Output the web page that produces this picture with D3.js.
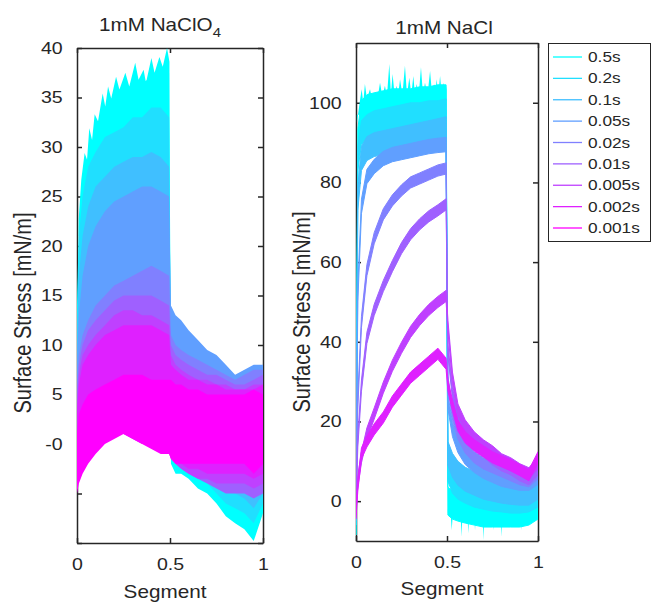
<!DOCTYPE html>
<html>
<head>
<meta charset="utf-8">
<script src="https://cdn.jsdelivr.net/npm/d3@7"></script>
<style>
  body { margin: 0; background: #fff; }
  svg { display: block; }
</style>
</head>
<body>
<svg id="chart" width="652" height="603"></svg>
<script>
// ---- data ----
const durations = ["0.5s", "0.2s", "0.1s", "0.05s", "0.02s", "0.01s", "0.005s", "0.002s", "0.001s"];
const seriesColors = ["#00ffff", "#20dfff", "#40bfff", "#609fff", "#8080ff", "#9f60ff", "#bf40ff", "#df20ff", "#ff00ff"];

const xTicks = [0, 0.5, 1];
const xTickLabels = ["0", "0.5", "1"];
const perchlorateTicks = [-10, -5, 0, 5, 10, 15, 20, 25, 30, 35, 40];
const perchlorateTickLabels = ["", "", "-0", "5", "10", "15", "20", "25", "30", "35", "40"];
const chlorideTicks = [0, 20, 40, 60, 80, 100];
const chlorideTickLabels = ["0", "20", "40", "60", "80", "100"];

// sample positions along the segment (shared by every series)
const segX = [0, 0.01, 0.03, 0.06, 0.1, 0.15, 0.2, 0.25, 0.3, 0.35, 0.4, 0.45, 0.495,
              0.505, 0.53, 0.56, 0.6, 0.65, 0.7, 0.75, 0.8, 0.85, 0.9, 0.95, 1];

// 1mM NaClO4: noisy bands, lower and upper edge per duration
const perchlorateLo = [
  [8, 12, 14, 16, 18, 19, 20, 21, 22, 23, 24, 24, 24, -2, -3, -3, -3.5, -4.5, -5, -6, -7.3, -8, -8.6, -9.8, -7],
  [6, 9, 11, 13, 15, 16, 17, 18, 19, 19, 20, 20, 20, -1, -2, -2.5, -3, -3.5, -4, -5, -6, -6.5, -7, -8, -6],
  [4, 6, 8, 10, 12, 13, 14, 14.5, 15, 15.5, 16, 16, 16, 0, -1, -1.5, -2, -2.5, -3, -4, -4.5, -5, -5.5, -6.5, -5],
  [2, 4, 6, 8, 9, 10, 11, 11, 11.5, 12, 12, 12, 12, 1, 0, -0.5, -1, -1.5, -2, -2.5, -3, -3.5, -4, -5, -4],
  [1, 2, 4, 5, 6, 7, 8, 8, 8.5, 9, 9, 9, 9, 0, -1, -1, -1.5, -2, -2.5, -3, -3.5, -4, -4, -4.5, -4],
  [-1, 0, 1, 2, 3, 4, 4.5, 5, 5, 5, 5, 4.5, 4, -1, -2, -2.5, -3, -3.5, -4, -4.5, -5, -5, -5, -5.5, -5],
  [-3, -2, -1, 0, 1, 1.5, 2, 2, 2, 1.5, 1, 0.5, 0, -1.5, -2, -2.5, -3, -3.5, -3.5, -4, -4, -4, -4, -4.5, -4],
  [-4, -3, -2, -1, 0, 0.5, 1, 1, 0.5, 0, 0, -0.5, -1, -1.5, -2, -2, -2.5, -2.5, -3, -3, -3, -3, -3, -3.5, -3],
  [-5, -4, -3, -2, -1, 0, 0.5, 1, 0.5, 0, -0.5, -1, -1, -1.5, -2, -2, -2, -2, -2, -2, -2, -2, -2, -3, -2]
];
const perchlorateHi = [
  [14, 22, 27, 29, 31, 33, 34, 35, 36, 36.5, 37, 37, 37.5, 9, 7, 6, 5, 4, 3, 2, 1, 0, -1, -2, -2],
  [12, 21, 25, 28, 29.5, 31, 31.5, 32, 33, 33, 34, 34, 33, 8, 6.5, 5.5, 4.5, 3.5, 3, 2, 1, 0.5, 0, -1, -1],
  [10, 17, 21, 24, 26, 27, 28, 28.5, 29, 29, 29.5, 29, 28, 9, 7.5, 6.5, 5.5, 4.5, 4, 3, 2, 1.5, 1, 0, 0],
  [8, 13, 17, 20, 22, 23.5, 24.5, 25, 25.5, 26, 26, 25.5, 25, 14, 13, 12.5, 11.5, 10.5, 9.5, 9, 8, 7, 7.5, 8, 8],
  [6, 9, 11, 12.5, 14, 15, 16, 16.5, 17, 17.5, 18, 17.5, 17, 11, 10, 9.5, 9, 8.5, 8, 7.5, 7, 6.5, 7, 7.5, 7.5],
  [5, 8, 10, 11.5, 12.5, 13.5, 14.5, 15, 15, 15, 15, 14.5, 14, 10, 9, 8.5, 8, 7.5, 7, 7, 6.5, 6, 6, 6.5, 7],
  [4, 7, 9, 10, 11, 12, 13, 13.5, 13.5, 13, 13, 12.5, 12, 9, 8, 7.5, 7, 6.5, 6.5, 6, 6, 5.5, 5.5, 6, 6],
  [3, 6, 8, 9, 10, 11, 11.5, 12, 12, 12, 12, 11.5, 11, 8, 7.5, 7, 6.5, 6.5, 6, 6, 5.5, 5.5, 5.5, 5.5, 6],
  [1, 3, 4, 5, 5.5, 6, 6.5, 7, 7, 7, 6.5, 6.5, 6.5, 6.5, 6, 6, 5.5, 5.5, 5, 5, 5, 5, 5, 5.5, 5]
];
// spiky top of the 0.5s trace in the NaClO4 panel
const perchlorateSpikeX = [0.009, 0.023, 0.041, 0.054, 0.066, 0.081, 0.095, 0.113, 0.138, 0.152, 0.167, 0.184, 0.21,
                           0.228, 0.26, 0.281, 0.313, 0.331, 0.358, 0.371, 0.4, 0.417, 0.443, 0.461, 0.484, 0.497];
const perchlorateSpikeV = [22.7, 26.7, 29.4, 28.7, 31.9, 30.7, 33.3, 32.6, 35.4, 34.1, 36.1, 34.9, 37.1,
                           35.8, 37.5, 36.1, 38.5, 36.8, 37.8, 36.5, 39, 37.5, 39.1, 38.1, 40, 38.6];
const perchlorateSpikeBase = 21;

// 1mM NaCl: centre line per duration (0.001s is not visible in this panel)
const chlorideMid = [
  [-5, 90, 97, 98.5, 99, 99.5, 100, 100, 100, 100.5, 100.5, 101, 101, 0, -1, -1.5, -2, -2.5, -3, -3, -3, -3, -3, -2.5, -1],
  [-3, 86, 92.5, 94, 95, 95.5, 96, 96.5, 97, 97, 97.5, 97.5, 98, 8, 5, 3.5, 2.5, 1.5, 1, 0.5, 0.3, 0, 0, 0.3, 1.5],
  [-2, 76, 86, 88.5, 89.5, 90, 90.5, 91, 91.5, 92, 92.5, 93, 93.5, 12, 9, 7, 5.5, 4.5, 3.5, 3, 2.5, 2.2, 2, 2, 3.5],
  [-1, 52, 74, 81.5, 84, 86, 87, 87.5, 88, 88.5, 89, 89.3, 89.5, 25, 18, 14, 11, 9, 7.5, 6.5, 5.5, 5, 4.5, 4.5, 6],
  [0, 25, 45, 58, 66, 72, 75.5, 78, 80, 81, 82, 83, 83.5, 30, 22, 17, 13.5, 11, 9.5, 8.5, 7.5, 6.5, 5.5, 5, 7],
  [0, 15, 29, 41, 48, 54, 59, 63.5, 67, 69.5, 71.5, 73, 74.5, 38, 27, 21, 17, 14.5, 12.5, 10.5, 9, 8, 6.5, 5.5, 8],
  [-2, 5, 11, 17, 22, 28.5, 34, 38.5, 42.5, 45.5, 48, 50, 51.5, 44, 31, 23, 19, 16, 14, 12.5, 10.5, 9.5, 8, 7, 9.5],
  [-3, 4, 12, 15, 18, 21, 25, 28, 31, 33, 35, 37, 34.5, 29, 24, 19, 16, 14, 12.5, 11, 10, 9, 7.8, 6.5, 11],
  []
];
const chlorideSpread = [3.5, 3, 3, 1.8, 1.4, 1.4, 1.4, 1.4, 0];
// spikes of the 0.5s trace in the NaCl panel
const chlorideSpikeX = [0.005, 0.02, 0.031, 0.04, 0.049, 0.06, 0.077, 0.09, 0.104, 0.118, 0.132, 0.145, 0.159, 0.17,
                        0.183, 0.192, 0.201, 0.212, 0.223, 0.232, 0.242, 0.255, 0.269, 0.28, 0.293, 0.304, 0.315,
                        0.324, 0.333, 0.345, 0.357, 0.368, 0.379, 0.393, 0.407, 0.418, 0.429, 0.436, 0.443, 0.452,
                        0.462, 0.471, 0.48, 0.49, 0.498];
const chlorideSpikeV = [95, 100, 103.4, 100, 104.7, 101, 103.4, 100.5, 102.6, 101, 105, 101.5, 104.3, 101.5,
                        109.7, 102, 107.2, 102, 104.3, 102, 105.9, 102, 109.3, 102, 106.3, 102, 106.7,
                        102, 104.7, 102, 108.9, 102, 105, 102, 108, 102, 104.7, 102, 105.9, 102,
                        106.7, 102, 105, 102, 104.3];
const chlorideSpikeBase = 97;
const chlorideDipX = [0.505, 0.52, 0.526, 0.532, 0.575, 0.58, 0.585, 0.612, 0.617, 0.622, 0.649, 0.654, 0.659,
                      0.695, 0.7, 0.705, 0.749, 0.754, 0.759, 0.795, 0.8, 0.805, 0.832, 0.837, 0.842,
                      0.905, 0.91, 0.915, 0.951, 0.956, 0.961, 1];
const chlorideDipV = [-3, -3, -7.3, -3, -3, -9, -3, -3, -8.1, -3, -3, -7.3, -3, -3, -9.8, -3, -3, -7.3, -3,
                      -3, -9, -3, -3, -5.6, -3, -3, -7.3, -3, -3, -5.6, -3, -2];
const chlorideDipBase = -2;

// ---- drawing ----
const svg = d3.select("#chart");
const ink = "#262626";
const fontStack = "'Liberation Sans', Arial, Helvetica, sans-serif";
const stretch = 1.15; // the reference glyphs are wider than Arial

const defs = svg.append("defs");

function makeAxes(box, yDomain, yTicks, yLabels, id) {
  const x = d3.scaleLinear().domain([0, 1]).range([box.left, box.right]);
  const y = d3.scaleLinear().domain(yDomain).range([box.bottom, box.top]);
  const g = svg.append("g").attr("font-family", fontStack).attr("font-size", 17);

  g.append("g").attr("transform", `translate(0,${box.bottom})`)
    .call(d3.axisBottom(x).tickValues(xTicks).tickFormat((d, i) => xTickLabels[i])
      .tickSizeInner(-5).tickSizeOuter(0).tickPadding(15));
  g.append("g").attr("transform", `translate(0,${box.top})`)
    .call(d3.axisTop(x).tickValues(xTicks).tickFormat("").tickSizeInner(-5).tickSizeOuter(0));
  g.append("g").attr("transform", `translate(${box.left},0)`)
    .call(d3.axisLeft(y).tickValues(yTicks).tickFormat((d, i) => yLabels[i])
      .tickSizeInner(-5).tickSizeOuter(0).tickPadding(12.5));
  g.append("g").attr("transform", `translate(${box.right},0)`)
    .call(d3.axisRight(y).tickValues(yTicks).tickFormat("").tickSizeInner(-5).tickSizeOuter(0));

  g.selectAll("g").attr("font-family", null).attr("font-size", null);
  g.selectAll(".domain, .tick line").attr("stroke", ink).attr("stroke-width", 1.5);
  g.selectAll(".tick text").attr("fill", ink).attr("transform", `scale(${stretch},1)`);

  defs.append("clipPath").attr("id", id)
    .append("rect").attr("x", box.left).attr("y", box.top)
    .attr("width", box.right - box.left).attr("height", box.bottom - box.top);
  const plot = svg.append("g").attr("clip-path", `url(#${id})`);
  return { x, y, plot };
}

function label(txt, px, py, size, rotate) {
  const t = svg.append("text")
    .attr("transform", rotate
      ? `translate(${px},${py}) rotate(-90) scale(1,${stretch})`
      : `translate(${px},${py}) scale(${stretch},1)`)
    .attr("text-anchor", "middle")
    .attr("font-family", fontStack)
    .attr("font-size", size)
    .attr("fill", ink)
    .text(txt);
  return t;
}

// left panel: 1mM NaClO4
const leftBox = { left: 77, right: 263, top: 48, bottom: 543 };
const L = makeAxes(leftBox, [-10, 40], perchlorateTicks, perchlorateTickLabels, "clipL");
const idx = d3.range(segX.length);

durations.forEach((name, s) => {
  L.plot.append("path")
    .datum(idx)
    .attr("fill", seriesColors[s])
    .attr("d", d3.area()
      .x(i => L.x(segX[i]))
      .y0(i => L.y(perchlorateLo[s][i]))
      .y1(i => L.y(perchlorateHi[s][i])));
  if (s === 0) {
    L.plot.append("path")
      .datum(d3.range(perchlorateSpikeX.length))
      .attr("fill", seriesColors[0])
      .attr("d", d3.area()
        .x(i => L.x(perchlorateSpikeX[i]))
        .y0(L.y(perchlorateSpikeBase))
        .y1(i => L.y(perchlorateSpikeV[i])));
  }
});

// right panel: 1mM NaCl
const rightBox = { left: 356, right: 538, top: 43, bottom: 541 };
const R = makeAxes(rightBox, [-10, 115], chlorideTicks, chlorideTickLabels, "clipR");

durations.forEach((name, s) => {
  const mid = chlorideMid[s];
  if (!mid.length) return;
  const w = chlorideSpread[s];
  R.plot.append("path")
    .datum(idx)
    .attr("fill", seriesColors[s])
    .attr("stroke", seriesColors[s])
    .attr("stroke-width", 1)
    .attr("d", d3.area()
      .x(i => R.x(segX[i]))
      .y0(i => R.y(mid[i] - w))
      .y1(i => R.y(mid[i] + w)));
  if (s === 0) {
    R.plot.append("path")
      .datum(d3.range(chlorideSpikeX.length))
      .attr("fill", seriesColors[0])
      .attr("d", d3.area()
        .x(i => R.x(chlorideSpikeX[i]))
        .y0(R.y(chlorideSpikeBase))
        .y1(i => R.y(chlorideSpikeV[i])));
    R.plot.append("path")
      .datum(d3.range(chlorideDipX.length))
      .attr("fill", seriesColors[0])
      .attr("d", d3.area()
        .x(i => R.x(chlorideDipX[i]))
        .y0(R.y(chlorideDipBase))
        .y1(i => R.y(chlorideDipV[i])));
  }
});

// titles and axis labels
const t1 = label("1mM NaClO", 160, 31, 18, false);
t1.append("tspan").attr("font-size", 13).attr("dy", 6).text("4");
label("1mM NaCl", 444, 34, 18, false);
label("Segment", 165, 598, 18, false);
label("Segment", 442, 595, 18, false);
label("Surface Stress [mN/m]", 31, 313, 20, true);
label("Surface Stress [mN/m]", 310, 312, 20, true);

// legend
const legend = svg.append("g");
legend.append("rect")
  .attr("x", 548.5).attr("y", 43.5).attr("width", 102).attr("height", 198)
  .attr("fill", "#fff").attr("stroke", ink).attr("stroke-width", 1);
const legendY = d3.scalePoint().domain(durations).range([57, 228]);
durations.forEach((name, s) => {
  const ly = legendY(name);
  legend.append("line")
    .attr("x1", 553).attr("x2", 582).attr("y1", ly).attr("y2", ly)
    .attr("stroke", seriesColors[s]).attr("stroke-width", 1.3);
  legend.append("text")
    .attr("transform", `translate(588,${ly + 5}) scale(${stretch},1)`)
    .attr("font-family", fontStack).attr("font-size", 15).attr("fill", ink)
    .text(name);
});
</script>
</body>
</html>
